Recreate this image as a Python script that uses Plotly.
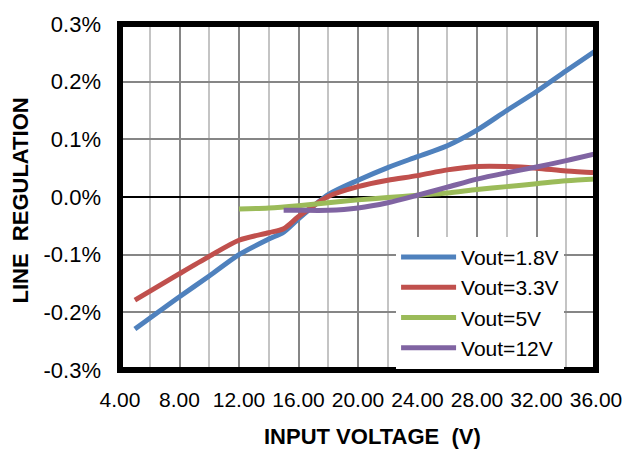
import plotly.graph_objects as go

# Input voltage (V) and line regulation (%) per series
v_18 = [5, 8, 10, 12, 14, 15, 16, 18, 20, 22, 24, 26, 28, 30, 32, 34, 36]
reg_18 = [-0.229, -0.173, -0.137, -0.100, -0.073, -0.061, -0.038, 0.004, 0.029,
          0.051, 0.070, 0.089, 0.116, 0.150, 0.183, 0.219, 0.254]

v_33 = [5, 8, 10, 12, 14, 15, 16, 18, 20, 22, 24, 26, 28, 30, 32, 34, 36]
reg_33 = [-0.179, -0.133, -0.103, -0.075, -0.062, -0.055, -0.034, 0.001, 0.018,
          0.029, 0.037, 0.047, 0.053, 0.053, 0.050, 0.045, 0.042]

v_5 = [12, 14, 16, 18, 20, 22, 24, 26, 28, 30, 32, 34, 36]
reg_5 = [-0.021, -0.019, -0.015, -0.010, -0.005, -0.001, 0.003, 0.007, 0.013,
         0.018, 0.023, 0.028, 0.031]

v_12 = [15, 16, 18, 20, 22, 24, 26, 28, 30, 32, 34, 36]
reg_12 = [-0.023, -0.023, -0.023, -0.019, -0.010, 0.003, 0.017, 0.031, 0.042,
          0.052, 0.063, 0.075]

x_ticks = [4, 8, 12, 16, 20, 24, 28, 32, 36]
x_tick_labels = ["4.00", "8.00", "12.00", "16.00", "20.00", "24.00", "28.00", "32.00", "36.00"]
y_ticks = [-0.3, -0.2, -0.1, 0.0, 0.1, 0.2, 0.3]
y_tick_labels = ["-0.3%", "-0.2%", "-0.1%", "0.0%", "0.1%", "0.2%", "0.3%"]

series = [
    ("Vout=1.8V", v_18, reg_18, "#4F81BD"),
    ("Vout=3.3V", v_33, reg_33, "#C0504D"),
    ("Vout=5V", v_5, reg_5, "#9BBB59"),
    ("Vout=12V", v_12, reg_12, "#8064A2"),
]

fig = go.Figure()
for name, xs, ys, col in series:
    fig.add_trace(go.Scatter(
        x=xs, y=ys, name=name, mode="lines",
        line=dict(color=col, width=5, shape="spline", smoothing=0.8),
    ))

font_family = "Liberation Sans, Arial, sans-serif"

fig.update_layout(
    width=634, height=449,
    margin=dict(l=120, r=35, t=20, b=79),
    paper_bgcolor="white", plot_bgcolor="white",
    font=dict(family=font_family, color="black"),
    showlegend=True,
    legend=dict(
        x=0.580, y=0.385, xanchor="left", yanchor="top",
        bgcolor="white", borderwidth=0,
        font=dict(size=21, family=font_family, color="black"),
        itemwidth=55, tracegroupgap=0,
    ),
    xaxis=dict(
        range=[4, 36], tickmode="array", tickvals=x_ticks, ticktext=x_tick_labels,
        showgrid=True, gridcolor="#868686", gridwidth=2,
        minor=dict(dtick=2, tick0=4, showgrid=True, gridcolor="#C4C4C4", gridwidth=2),
        zeroline=False, showline=False, ticks="",
        tickfont=dict(size=21, family=font_family, color="black"),
        ticklabelstandoff=15,
    ),
    yaxis=dict(
        range=[-0.3, 0.3], tickmode="array", tickvals=y_ticks, ticktext=y_tick_labels,
        showgrid=True, gridcolor="#868686", gridwidth=2,
        zeroline=True, zerolinecolor="black", zerolinewidth=2,
        showline=False, ticks="",
        tickfont=dict(size=22, family=font_family, color="black"),
        ticklabelstandoff=18,
    ),
    shapes=[dict(type="rect", xref="paper", yref="paper", x0=0, y0=0, x1=1, y1=1,
                 line=dict(color="black", width=6), layer="above")],
    annotations=[
        dict(text="<b>INPUT VOLTAGE\u00a0 (V)</b>", xref="paper", yref="paper",
             x=0.531, y=-0.191, xanchor="center", yanchor="middle", showarrow=False,
             font=dict(size=22, family=font_family, color="black")),
        dict(text="<b>LINE\u00a0 REGULATION</b>", xref="paper", yref="paper",
             x=-0.21, y=0.49, xanchor="center", yanchor="middle", showarrow=False,
             textangle=-90, font=dict(size=22, family=font_family, color="black")),
    ],
)

fig.write_html("out.html", config={"displayModeBar": False},
               post_script="document.body.style.margin='0';")
